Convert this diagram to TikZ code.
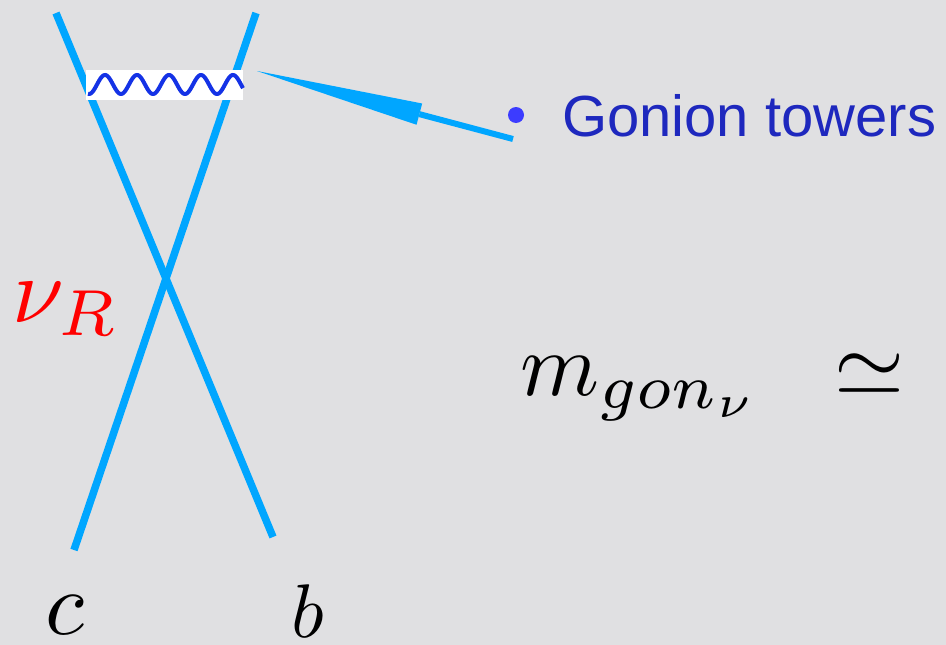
\documentclass[tikz,border=0pt]{standalone}
\usepackage{fontspec}
\setmainfont{Liberation Sans}
\usetikzlibrary{arrows.meta}
\definecolor{bgc}{RGB}{224,224,226}
\definecolor{linec}{RGB}{0,166,255}
\definecolor{wavec}{RGB}{20,50,230}
\definecolor{txtc}{RGB}{30,40,190}
\definecolor{dotc}{RGB}{60,60,255}
\newcommand{\mylbl}[2][9]{\scalebox{#1}{$#2$}}
\tikzset{
  fermion/.style={draw=linec, line width=7.5pt},
  mathlbl/.style={anchor=base west, inner sep=0pt, font=\fontsize{10}{12}\selectfont},
  pointer/.style={draw=linec, line width=6pt, -{Triangle[length=168pt,width=22pt,line width=0pt]}},
}
\begin{document}
\begin{tikzpicture}[x=1pt,y=-1pt]
\fill[bgc] (0,0) rectangle (946,645);
\useasboundingbox (0,0) rectangle (946,645);
% fermion lines
\coordinate (l1a) at (56,13);
\coordinate (l1b) at (273,537);
\coordinate (l2a) at (256,13);
\coordinate (l2b) at (74,550);
\draw[fermion] (l1a) -- (l1b);
\draw[fermion] (l2a) -- (l2b);
% wave box
\node (wbox) [fill=white, inner sep=0pt, minimum width=157pt, minimum height=30pt, anchor=north west] at (86,70) {};
\draw[wavec, line width=4pt] plot[domain=88:243, samples=200] (\x, {84.5-9.5*sin(11.25*(\x-97))});
% arrow
\coordinate (arrS) at (513,139);
\coordinate (arrT) at (257,71);
\draw[pointer] (arrS) -- (arrT);
% bullet and text
\node (dot) [circle, fill=dotc, minimum size=16pt, inner sep=0pt] at (516,115) {};
\node (gon) [anchor=base west, inner sep=0pt, text=txtc, font=\fontsize{58}{70}\selectfont] at (562,136) {Gonion towers};
% labels
\node (nuR) [mathlbl, text=red] at (12,322) {\mylbl[9.3]{\nu_R}};
\node (mgon) [mathlbl] at (520,395) {\mylbl[9]{m_{gon_\nu}\hspace{5.4pt}\simeq}};
\node (clbl) [mathlbl] at (45,634) {\mylbl[9]{c}};
\node (blbl) [mathlbl] at (291,637) {\mylbl[7.6]{b}};
\end{tikzpicture}
\end{document}
